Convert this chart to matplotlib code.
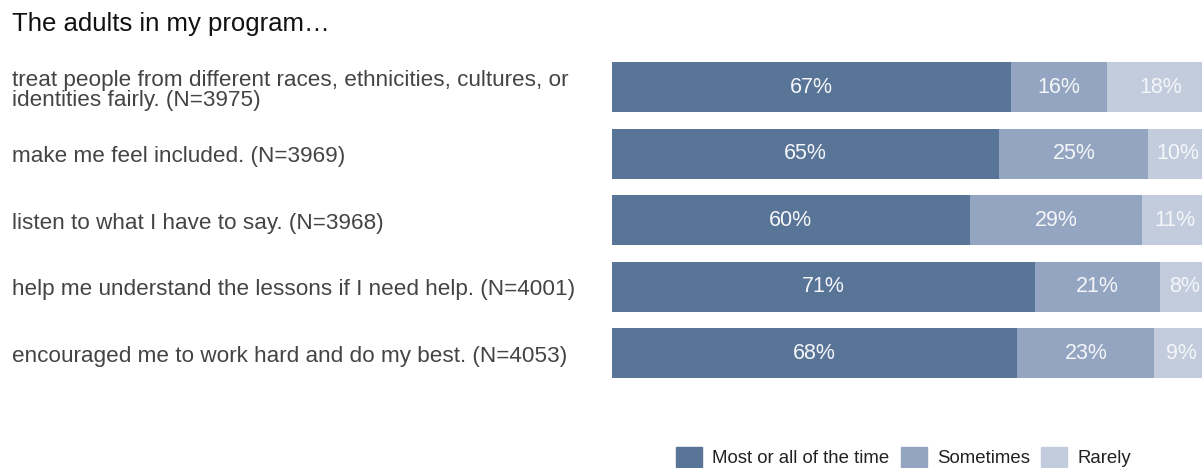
import matplotlib.pyplot as plt
import matplotlib.patches as mplpatches
import numpy as np

plt.rcParams['font.family'] = ['Liberation Sans', 'DejaVu Sans']

# survey items and response shares (percent)
items = ['treat people from different races, ethnicities, cultures, or\nidentities fairly. (N=3975)',
         'make me feel included. (N=3969)',
         'listen to what I have to say. (N=3968)',
         'help me understand the lessons if I need help. (N=4001)',
         'encouraged me to work hard and do my best. (N=4053)']
most_all = [67, 65, 60, 71, 68]
sometimes = [16, 25, 29, 21, 23]
rarely = [18, 10, 11, 8, 9]
series_names = ['Most or all of the time', 'Sometimes', 'Rarely']
colors = ['#587497', '#93a5c1', '#c3ccdd']

fig_w, fig_h = 12.02, 4.68
fig = plt.figure(figsize=(fig_w, fig_h), dpi=100)

# bar panel, the right end runs slightly past the figure edge
ax = fig.add_axes([612 / 1202, 1 - 386.5 / 468, 596 / 1202, 332.5 / 468])
ax.set_xlim(0, 100)
ax.set_ylim(len(items) - 0.5, -0.5)
ax.axis('off')

y = np.arange(len(items))
left = np.zeros(len(items))
for vals, col in zip([most_all, sometimes, rarely], colors):
    vals = np.array(vals, dtype=float)
    ax.barh(y, vals, left=left, height=0.75, color=col, edgecolor='none')
    for yi, l, v in zip(y, left, vals):
        ax.text(l + v / 2, yi, f'{int(v)}%', ha='center', va='center',
                color='#f4f6f9', fontsize=15.5)
    left += vals

# category labels on the left, nudged a little below bar centre
for yi, lab in zip(y, items):
    ypix = ax.transData.transform((0, yi))[1] - 3
    fig.text(12 / 1202, ypix / (fig_h * 100),
             lab, ha='left', va='center', fontsize=16.2, color='#444444',
             linespacing=0.95)

fig.text(12 / 1202, 1 - 24 / 468, 'The adults in my program\u2026', ha='left',
         va='center', fontsize=18.5, color='#111111')

handles = [mplpatches.Patch(color=c) for c in colors]
fig.legend(handles, series_names, loc='center left',
           bbox_to_anchor=(676 / 1202, 1 - 457 / 468), ncol=3, frameon=False,
           borderpad=0, borderaxespad=0,
           fontsize=13.4, handlelength=1.4, handleheight=1.3, handletextpad=0.55,
           columnspacing=0.6, labelcolor='#222222')

plt.savefig('out.png', dpi=100)
